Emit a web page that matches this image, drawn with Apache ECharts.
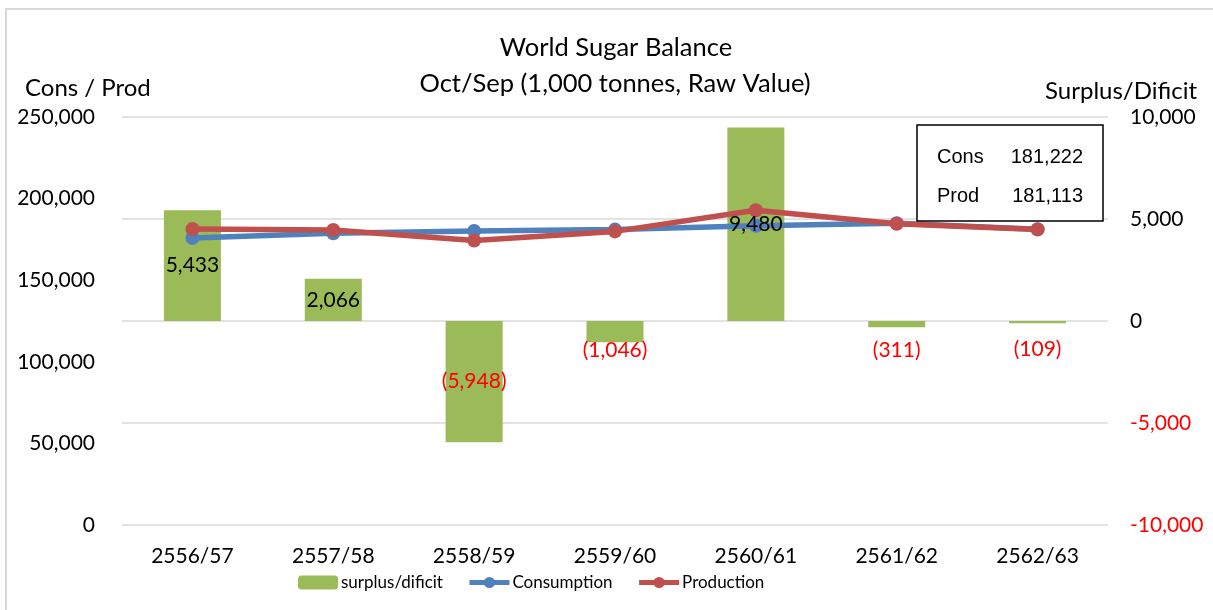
<!DOCTYPE html>
<html>
<head>
<meta charset="utf-8">
<title>World Sugar Balance</title>
<script src="https://cdn.jsdelivr.net/npm/echarts@6/dist/echarts.min.js"></script>
<style>
    html, body { margin: 0; padding: 0; background: #fff; }
    #main { width: 1213px; height: 610px; }
</style>
</head>
<body>
<div id="main"></div>
<script>
// data
let years = ["2556/57", "2557/58", "2558/59", "2559/60", "2560/61", "2561/62", "2562/63"];
let surplus = [5433, 2066, -5948, -1046, 9480, -311, -109];
let consumption = [175900, 178700, 180200, 181000, 183400, 184900, 181222];
let production = [181400, 180800, 174300, 179900, 192900, 184600, 181113];
let boxNames = ["Cons", "Prod"];
let boxValues = [181222, 181113];

let font = "Lato";
let fmt = function (v) { return Math.abs(v).toLocaleString("en-US"); };

// small negative bars get their label pushed below the bar
let labelDist = { "-1046": -3, "-311": 12, "-109": 16 };
let labelData = surplus.map(function (v) {
    let item = { value: v };
    if (labelDist[v] !== undefined) {
        item.label = { position: "bottom", distance: labelDist[v] };
    }
    return item;
});

let chart = echarts.init(document.getElementById("main"));
let option = {
    backgroundColor: "#fff",
    animation: false,
    textStyle: { fontFamily: font },
    grid: { left: 122, right: 105, top: 117, bottom: 85 },
    legend: {
        top: 569,
        left: 293,
        itemWidth: 40,
        itemHeight: 14,
        itemGap: 24,
        textStyle: { fontSize: 17, color: "#000", fontFamily: font, padding: [0, 0, 0, -2] },
        lineStyle: { width: 5 },
        data: ["surplus/dificit", "Consumption", "Production"]
    },
    xAxis: {
        type: "category",
        data: years,
        axisLine: { show: false },
        axisTick: { show: false },
        axisLabel: { fontSize: 21, color: "#000", margin: 21, fontFamily: font }
    },
    yAxis: [{
        type: "value",
        min: 0,
        max: 250000,
        interval: 50000,
        splitLine: { show: false },
        axisLine: { show: false },
        axisTick: { show: false },
        axisLabel: {
            fontSize: 21, color: "#000", margin: 27, fontFamily: font,
            formatter: function (v) { return v.toLocaleString("en-US"); }
        }
    }, {
        type: "value",
        min: -10000,
        max: 10000,
        interval: 5000,
        position: "right",
        splitLine: { show: true, lineStyle: { color: "#d9d9d9", width: 1.5 } },
        axisLine: { show: false },
        axisTick: { show: false },
        axisLabel: {
            fontSize: 21, margin: 22, fontFamily: font,
            color: function (v) { return Number(v) < 0 ? "#ff0000" : "#000"; },
            formatter: function (v) { return (v < 0 ? "-" : "") + fmt(v); }
        }
    }],
    series: [{
        name: "surplus/dificit",
        type: "bar",
        yAxisIndex: 1,
        barWidth: 57,
        itemStyle: { color: "#9bbb59" },
        data: surplus,
        z: 1
    }, {
        name: "Consumption",
        type: "line",
        yAxisIndex: 0,
        data: consumption,
        symbol: "circle",
        symbolSize: 14,
        color: "#4f81bd",
        lineStyle: { width: 5.5, color: "#4f81bd" },
        itemStyle: { color: "#4f81bd" },
        z: 3
    }, {
        name: "Production",
        type: "line",
        yAxisIndex: 0,
        data: production,
        symbol: "circle",
        symbolSize: 14,
        color: "#c0504d",
        lineStyle: { width: 5.5, color: "#c0504d" },
        itemStyle: { color: "#c0504d" },
        z: 4
    }, {
        // transparent copy of the bars, only carries the data labels above the lines
        name: "labels",
        type: "bar",
        yAxisIndex: 1,
        barWidth: 57,
        barGap: "-100%",
        silent: true,
        itemStyle: { color: "rgba(0,0,0,0)" },
        label: {
            show: true,
            position: "inside",
            fontSize: 21,
            fontFamily: font,
            color: "#000",
            formatter: function (p) {
                return p.value < 0 ? "{neg|(" + fmt(p.value) + ")}" : fmt(p.value);
            },
            rich: { neg: { color: "#ff0000", fontSize: 21, fontFamily: font } }
        },
        data: labelData,
        z: 6
    }],
    graphic: [
        {
            type: "rect", silent: true, z: 0,
            shape: { x: 6, y: 9, width: 1230, height: 640 },
            style: { fill: null, stroke: "#d9d9d9", lineWidth: 2 }
        },
        {
            type: "text", x: 616, y: 48, z: 10,
            style: { text: "World Sugar Balance", fontSize: 25.5, fontFamily: font, fill: "#000", align: "center", verticalAlign: "middle" }
        },
        {
            type: "text", x: 615, y: 84, z: 10,
            style: { text: "Oct/Sep (1,000 tonnes, Raw Value)", fontSize: 25.5, fontFamily: font, fill: "#000", align: "center", verticalAlign: "middle" }
        },
        {
            type: "text", x: 25, y: 88, z: 10,
            style: { text: "Cons / Prod", fontSize: 24, fontFamily: font, fill: "#000", verticalAlign: "middle" }
        },
        {
            type: "text", x: 1197, y: 91, z: 10,
            style: { text: "Surplus/Dificit", fontSize: 24, fontFamily: font, fill: "#000", align: "right", verticalAlign: "middle" }
        },
        {
            type: "rect", z: 10,
            shape: { x: 917, y: 125, width: 186, height: 96 },
            style: { fill: "#fff", stroke: "#000", lineWidth: 1.5 }
        },
        {
            type: "text", x: 937, y: 157, z: 11,
            style: { text: boxNames[0], fontSize: 20, fontFamily: "Liberation Sans", fill: "#000", verticalAlign: "middle" }
        },
        {
            type: "text", x: 1083, y: 157, z: 11,
            style: { text: boxValues[0].toLocaleString("en-US"), fontSize: 20, fontFamily: "Liberation Sans", fill: "#000", align: "right", verticalAlign: "middle" }
        },
        {
            type: "text", x: 937, y: 196, z: 11,
            style: { text: boxNames[1], fontSize: 20, fontFamily: "Liberation Sans", fill: "#000", verticalAlign: "middle" }
        },
        {
            type: "text", x: 1083, y: 196, z: 11,
            style: { text: boxValues[1].toLocaleString("en-US"), fontSize: 20, fontFamily: "Liberation Sans", fill: "#000", align: "right", verticalAlign: "middle" }
        }
    ]
};
chart.setOption(option);
</script>
</body>
</html>
